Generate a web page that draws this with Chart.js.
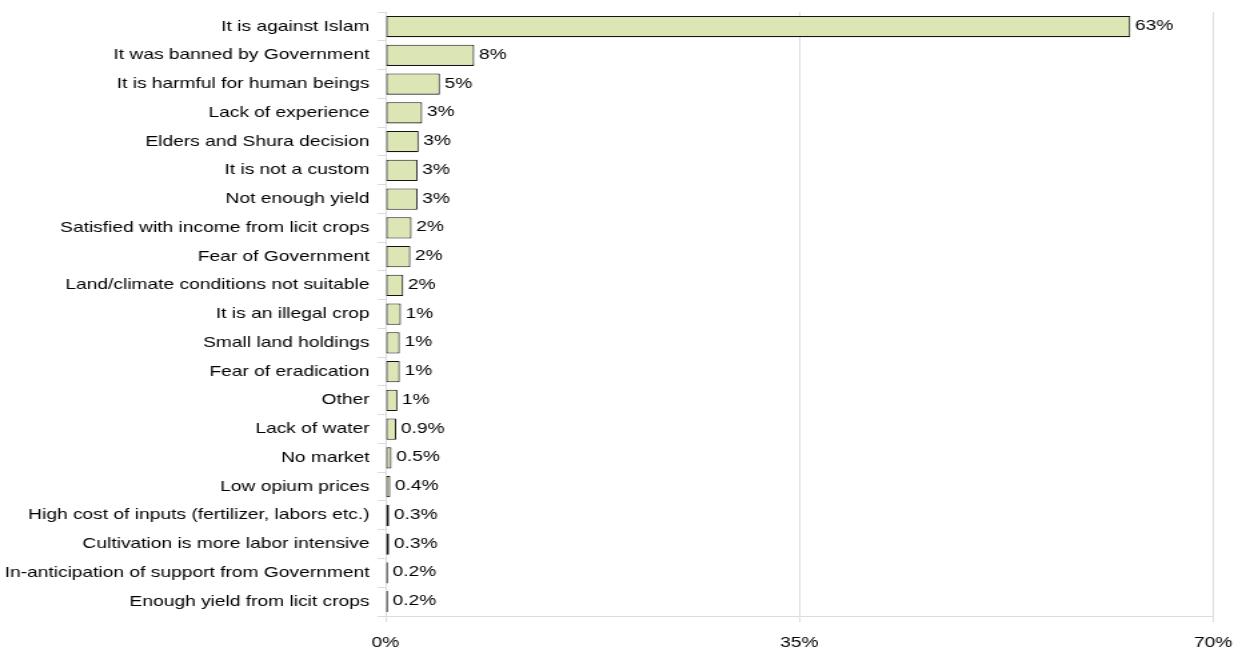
<!DOCTYPE html>
<html>
<head>
<meta charset="utf-8">
<script src="https://cdn.jsdelivr.net/npm/chart.js@4/dist/chart.umd.min.js"></script>
<style>
  html, body { margin: 0; padding: 0; background: #ffffff; }
  #wrap { width: 1238px; height: 652px; position: relative; overflow: hidden; }
  /* the drawing surface is laid out narrower and widened to the page width */
  #c { width: 1238px !important; height: 652px !important; display: block; }
</style>
</head>
<body>
<div id="wrap"><canvas id="c" width="928" height="652" style="width:1238px;height:652px"></canvas></div>
<script>
// Reasons for not cultivating opium poppy (share of respondents, %)
const reasons = [
  "It is against Islam",
  "It was banned by Government",
  "It is harmful for human beings",
  "Lack of experience",
  "Elders and Shura decision",
  "It is not a custom",
  "Not enough yield",
  "Satisfied with income from licit crops",
  "Fear of Government",
  "Land/climate conditions not suitable",
  "It is an illegal crop",
  "Small land holdings",
  "Fear of eradication",
  "Other",
  "Lack of water",
  "No market",
  "Low opium prices",
  "High cost of inputs (fertilizer, labors etc.)",
  "Cultivation is more labor intensive",
  "In-anticipation of support from Government",
  "Enough yield from licit crops"
];
const shares = [63, 7.5, 4.6, 3.1, 2.8, 2.7, 2.7, 2.2, 2.1, 1.5, 1.3, 1.2, 1.2, 1.0, 0.9, 0.5, 0.4, 0.3, 0.3, 0.2, 0.2];
const xTicks = [0, 35, 70];

const FONT = "'Liberation Sans', Arial, sans-serif";
const FONT_SIZE = 14.4;

// whole percents from 1% up, one decimal below
function fmtShare(v) {
  return v >= 1 ? Math.round(v) + "%" : v.toFixed(1) + "%";
}

const valueLabels = {
  id: "valueLabels",
  afterDatasetsDraw(chart) {
    const ctx = chart.ctx;
    const meta = chart.getDatasetMeta(0);
    ctx.save();
    ctx.font = FONT_SIZE + "px " + FONT;
    ctx.fillStyle = "#000000";
    ctx.textAlign = "left";
    ctx.textBaseline = "middle";
    meta.data.forEach((bar, i) => {
      ctx.fillText(fmtShare(shares[i]), bar.x + 3.5, bar.y - 0.5);
    });
    ctx.restore();
  }
};

new Chart(document.getElementById("c"), {
  type: "bar",
  data: {
    labels: reasons,
    datasets: [{
      data: shares,
      backgroundColor: "#dce6b5",
      borderColor: "#141414",
      borderWidth: 1.1,
      borderSkipped: false,
      categoryPercentage: 1.0,
      barPercentage: 0.74
    }]
  },
  options: {
    indexAxis: "y",
    responsive: false,
    animation: false,
    devicePixelRatio: 1,
    layout: { padding: { top: 12.2, right: 18.7, left: 0, bottom: 0 } },
    plugins: { legend: { display: false }, tooltip: { enabled: false } },
    scales: {
      x: {
        min: 0,
        max: 70,
        afterBuildTicks(scale) { scale.ticks = xTicks.map(v => ({ value: v })); },
        afterFit(scale) {
          scale.height = 36;
          scale.paddingLeft = 0;
          scale.paddingRight = 0;
        },
        grid: { color: "#dcdcdc", lineWidth: 1, tickLength: 6, drawTicks: true },
        border: { display: true, color: "#dcdcdc" },
        ticks: {
          color: "#000000",
          font: { family: FONT, size: FONT_SIZE },
          padding: 12,
          callback: v => v + "%"
        }
      },
      y: {
        afterFit(scale) {
          scale.width = 289;
          scale.paddingTop = 0;
          scale.paddingBottom = 0;
        },
        grid: { display: true, drawOnChartArea: false, color: "#dcdcdc", tickLength: 6, offset: true },
        border: { display: true, color: "#dcdcdc" },
        ticks: {
          color: "#000000",
          font: { family: FONT, size: FONT_SIZE },
          padding: 6,
          autoSkip: false
        }
      }
    }
  },
  plugins: [valueLabels]
});
</script>
</body>
</html>
